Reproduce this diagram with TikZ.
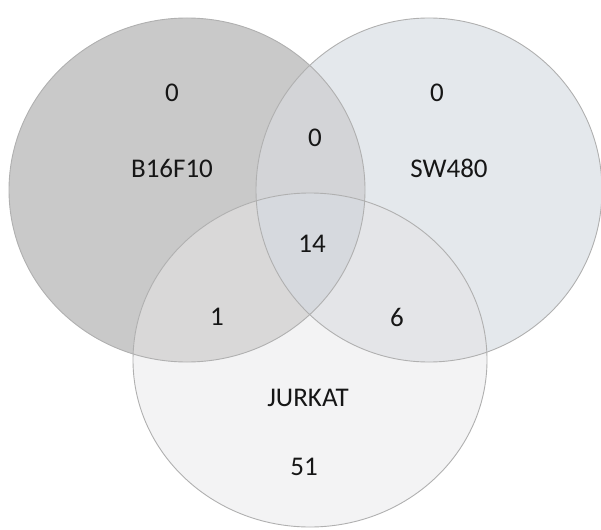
\documentclass[tikz,border=0pt]{standalone}
\usepackage{fontspec}
\setmainfont{Carlito}
\definecolor{cB}{HTML}{C9C9C9}
\definecolor{cS}{HTML}{E4E8EC}
\definecolor{cJ}{HTML}{F3F3F4}
\definecolor{cBS}{HTML}{D3D4D7}
\definecolor{cBJ}{HTML}{D9D8D8}
\definecolor{cSJ}{HTML}{E4E5E8}
\definecolor{cBSJ}{HTML}{D6D9DE}
\definecolor{cEdge}{HTML}{B0B0B0}
\definecolor{cText}{HTML}{161616}
\begin{document}
\begin{tikzpicture}[x=1pt,y=-1pt,
  lbl/.style={font=\fontsize{27}{31}\selectfont, text=cText, inner sep=0pt},
  rim/.style={draw=cEdge, line width=0.9pt}]
\useasboundingbox (0,0) rectangle (601,529);
% base fills
\fill[cB] (187,190) ellipse [x radius=178, y radius=172];
\fill[cS] (429,190) ellipse [x radius=173, y radius=172];
\fill[cJ] (310,360) ellipse [x radius=177, y radius=167];
% pairwise intersections
\begin{scope}
  \clip (187,190) ellipse [x radius=178, y radius=172];
  \fill[cBS] (429,190) ellipse [x radius=173, y radius=172];
  \fill[cBJ] (310,360) ellipse [x radius=177, y radius=167];
\end{scope}
\begin{scope}
  \clip (429,190) ellipse [x radius=173, y radius=172];
  \fill[cSJ] (310,360) ellipse [x radius=177, y radius=167];
\end{scope}
\begin{scope}
  \clip (187,190) ellipse [x radius=178, y radius=172];
  \clip (429,190) ellipse [x radius=173, y radius=172];
  \fill[cBSJ] (310,360) ellipse [x radius=177, y radius=167];
\end{scope}
% outlines
\draw[rim] (187,190) ellipse [x radius=178, y radius=172];
\draw[rim] (429,190) ellipse [x radius=173, y radius=172];
\draw[rim] (310,360) ellipse [x radius=177, y radius=167];
% labels
\node[lbl] (b0)    at (172,93)  {0};
\node[lbl] (bname) at (172,168) {B16F10};
\node[lbl] (bs)    at (315,138) {0};
\node[lbl] (s0)    at (437,93)  {0};
\node[lbl] (sname) at (449,168) {SW480};
\node[lbl] (bsj)   at (312,244) {14};
\node[lbl] (bj)    at (217,317) {1};
\node[lbl] (sj)    at (397,317) {6};
\node[lbl] (jname) at (308,398) {JURKAT};
\node[lbl] (j0)    at (304,467) {51};
\end{tikzpicture}
\end{document}
